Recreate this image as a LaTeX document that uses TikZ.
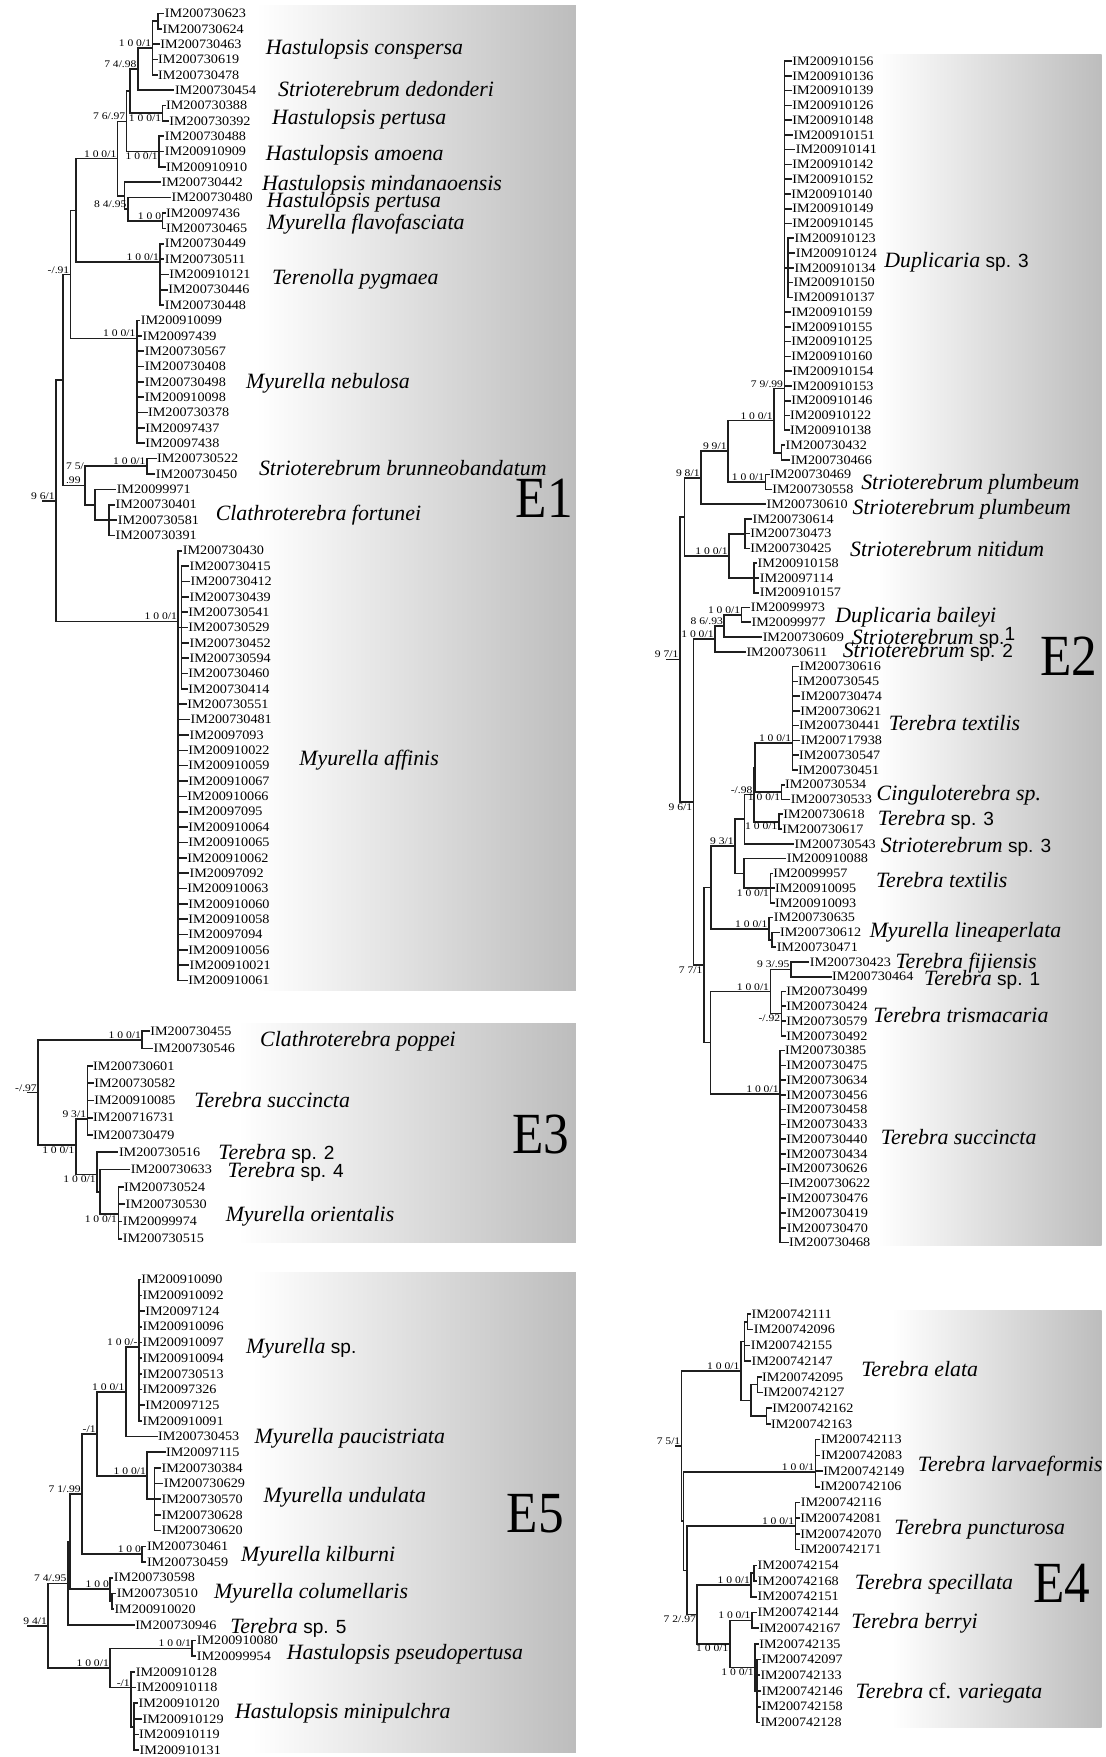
\documentclass[tikz,border=0pt]{standalone}
\usepackage{fontspec}
\setmainfont{Liberation Serif}
\newfontfamily\imf[FakeStretch=1.1]{Liberation Serif}
\newfontfamily\bsf[FakeStretch=1.15]{Liberation Serif}
\newfontfamily\ef[FakeStretch=0.88]{Liberation Serif}
\newfontfamily\spf{Liberation Sans}
\newcommand\kids[2]{\foreach \kk in {#2}{\draw[tbr] (#1) |- (\kk);}}
\newcommand\kidr[4]{\foreach \kk in {#3,...,#4}{\draw[tbr] (#1) |- (#2\kk);}}
\newcommand\bsa[3]{\node[bs,anchor=south east] (#1) at (#2) {#3};}
\newcommand\bsb[3]{\node[bs,anchor=north east] (#1) at (#2) {#3};}
\newcommand\spl[4]{\node[spc] (#1) at (#2,#3+6.5) {#4};}
\newcommand\ebox[5]{\fill[white] (#1,#2) rectangle (#5,#4);
  \shade[left color=white,right color=black!26] (#5,#2) rectangle (#3,#4);}
\newcommand\spp[1]{{\spf\upshape\fontsize{17pt}{17pt}\selectfont #1}}
\begin{document}
\begin{tikzpicture}[x=1pt,y=-1pt,
  tbr/.style={line width=1.45pt, draw=black!88, line cap=rect},
  leaf/.style={anchor=west, inner xsep=1.2pt, inner ysep=0.5pt, outer sep=0pt, font=\imf\fontsize{11.5pt}{11.5pt}\selectfont},
  bs/.style={inner sep=1pt, font=\bsf\fontsize{9pt}{9pt}\selectfont},
  spc/.style={anchor=base west, inner sep=0pt, font=\fontsize{19.5pt}{19.5pt}\selectfont\itshape},
  elab/.style={anchor=base west, inner sep=0pt, font=\ef\fontsize{52pt}{52pt}\selectfont}]
\useasboundingbox (0,0) rectangle (987,1568);
\fill[white] (0,0) rectangle (987,1568);
% boxes
\ebox{5}{5}{514}{884}{229}
\ebox{5}{913}{514}{1108.5}{212}
\ebox{5}{1136}{514}{1564}{225}
\ebox{600}{48.5}{983}{1111.6}{783}
\ebox{600}{1169.6}{983}{1541.7}{796}

% ================= E1 leaves
\foreach \tx/\lb [count=\i from 0] in {146/IM200730623, 144/IM200730624, 142/IM200730463, 140/IM200730619, 140/IM200730478, 155/IM200730454, 147/IM200730388, 150/IM200730392, 146/IM200730488, 146/IM200910909, 147/IM200910910, 143/IM200730442, 152/IM200730480, 147/IM20097436, 147/IM200730465, 146/IM200730449, 146/IM200730511, 150/IM200910121, 149/IM200730446, 146/IM200730448, 124.5/IM200910099, 126/IM20097439, 128/IM200730567, 128/IM200730408, 128/IM200730498, 128/IM200910098, 131/IM200730378, 128.5/IM20097437, 128.5/IM20097438, 139/IM200730522, 138/IM200730450, 103/IM20099971, 102/IM200730401, 104/IM200730581, 102/IM200730391, 162/IM200730430, 168/IM200730415, 169/IM200730412, 168/IM200730439, 167/IM200730541, 167/IM200730529, 168/IM200730452, 168/IM200730594, 167/IM200730460, 167/IM200730414, 166/IM200730551, 169/IM200730481, 168/IM20097093, 167/IM200910022, 167/IM200910059, 167/IM200910067, 166/IM200910066, 167/IM20097095, 167/IM200910064, 167/IM200910065, 166/IM200910062, 168/IM20097092, 166/IM200910063, 167/IM200910060, 167/IM200910058, 167/IM20097094, 167/IM200910056, 168/IM200910021, 167/IM200910061}
  {\node[leaf] (e1-\i) at ({\tx},{12+13.7*\i}) {\lb};}
\coordinate (a-cs1) at (141,18.9);
\coordinate (a-cs) at (136,42.8);
\coordinate (a-ea) at (123,61.7);
\coordinate (a-pp) at (145,101);
\coordinate (a-j1) at (116,81.4);
\coordinate (a-am) at (142,135.3);
\coordinate (a-j) at (113,108.4);
\coordinate (a-fl) at (145,197);
\coordinate (a-k2) at (114,186.7);
\coordinate (a-k) at (111,174.7);
\coordinate (a-i) at (105,141.5);
\coordinate (a-t) at (143,234);
\coordinate (a-e) at (68,188);
\coordinate (a-n) at (122,302);
\coordinate (a-b) at (63,245);
\coordinate (a-g) at (131,416);
\coordinate (a-f1) at (97.4,464);
\coordinate (a-f) at (85,450.4);
\coordinate (a-d) at (76,433.2);
\coordinate (a-c) at (56,339);
\coordinate (a-af1) at (162,560);
\coordinate (a-af) at (159,554.5);
\coordinate (a-r) at (50,447);
\coordinate (a-rs) at (38,447);
\draw[tbr] (a-rs) -- (a-r);
\kids{a-r}{a-c,a-af}
\kids{a-c}{a-b,a-d}
\kids{a-b}{a-e,a-n}
\kids{a-e}{a-i,a-t}
\kids{a-i}{a-j,a-k}
\kids{a-j}{a-j1,a-am}
\kids{a-j1}{a-ea,a-pp}
\kids{a-ea}{a-cs,e1-5}
\kids{a-cs}{a-cs1,e1-2,e1-3,e1-4}
\kids{a-cs1}{e1-0,e1-1}
\kids{a-pp}{e1-6,e1-7}
\kids{a-am}{e1-8,e1-9,e1-10}
\kids{a-k}{e1-11,a-k2}
\kids{a-k2}{e1-12,a-fl}
\kids{a-fl}{e1-13,e1-14}
\kidr{a-t}{e1-}{15}{19}
\kidr{a-n}{e1-}{20}{28}
\kids{a-d}{a-g,a-f}
\kids{a-g}{e1-29,e1-30}
\kids{a-f}{e1-31,a-f1}
\kidr{a-f1}{e1-}{32}{34}
\kids{a-af}{e1-35,a-af1}
\kidr{a-af1}{e1-}{36}{44}
\kidr{a-af}{e1-}{45}{63}
\bsa{la-cs}{a-cs}{1 0 0/1}
\bsa{la-ea}{a-ea}{7 4/.98}
\bsb{la-pp}{a-pp}{1 0 0/1}
\bsb{la-am}{a-am}{1 0 0/1}
\bsa{la-j}{a-j}{7 6/.97}
\bsa{la-fl}{a-fl}{1 0 0}
\bsa{la-k2}{a-k2}{8 4/.95}
\bsa{la-i}{a-i}{1 0 0/1}
\bsa{la-t}{a-t}{1 0 0/1}
\bsa{la-n}{a-n}{1 0 0/1}
\bsa{la-b}{a-b}{-/.91}
\bsa{la-g}{a-g}{1 0 0/1}
\node[bs,anchor=south east,align=left] (la-d) at (a-d) {7 5/\\[4pt].99};
\bsa{la-af}{a-af}{1 0 0/1}
\bsa{la-r}{a-r}{9 6/1}
\spl{s1}{237}{41.7}{Hastulopsis conspersa}
\spl{s2}{248}{80}{Strioterebrum dedonderi}
\spl{s3}{242.6}{104.8}{Hastulopsis pertusa}
\spl{s4}{237}{137}{Hastulopsis amoena}
\spl{s5}{233.7}{163.7}{Hastulopsis mindanaoensis}
\spl{s6}{238}{178.6}{Hastulopsis pertusa}
\spl{s7}{238}{198}{Myurella flavofasciata}
\spl{s8}{242.6}{247}{Terenolla pygmaea}
\spl{s9}{219.5}{340}{Myurella nebulosa}
\spl{s10}{231}{418}{Strioterebrum brunneobandatum}
\spl{s11}{192.4}{457.8}{Clathroterebra fortunei}
\spl{s12}{267}{677}{Myurella affinis}
\node[elab] (E1) at (460,462) {E1};

% ================= E3
\foreach \tx/\lb [count=\i from 0] in {133/IM200730455, 136/IM200730546, 82/IM200730601, 83/IM200730582, 83/IM200910085, 82/IM200716731, 82/IM200730479, 105/IM200730516, 115.5/IM200730633, 109.5/IM200730524, 111/IM200730530, 108.5/IM20099974, 108.5/IM200730515}
  {\node[leaf] (e3-\i) at ({\tx},{920.3+15.43*\i}) {\lb};}
\coordinate (c-cp) at (127,928);
\coordinate (c-su) at (78,998.5);
\coordinate (c-or) at (105.6,1083.5);
\coordinate (c-s3) at (89,1064);
\coordinate (c-s2) at (86.5,1048);
\coordinate (c-s) at (67.7,1022);
\coordinate (c-r) at (34,975);
\coordinate (c-rs) at (24.8,975);
\draw[tbr] (c-rs) -- (c-r);
\kids{c-r}{c-cp,c-s}
\kids{c-cp}{e3-0,e3-1}
\kids{c-s}{c-su,c-s2}
\kidr{c-su}{e3-}{2}{6}
\kids{c-s2}{e3-7,c-s3}
\kids{c-s3}{e3-8,c-or}
\kidr{c-or}{e3-}{9}{12}
\bsa{lc-cp}{c-cp}{1 0 0/1}
\bsa{lc-r}{c-r}{-/.97}
\bsa{lc-su}{c-su}{9 3/1}
\bsb{lc-s}{c-s}{1 0 0/1}
\bsb{lc-s2}{c-s2}{1 0 0/1}
\bsb{lc-or}{c-or}{1 0 0/1}
\spl{t1}{232}{927}{Clathroterebra poppei}
\spl{t2}{173.3}{981.5}{Terebra succincta}
\spl{t3}{194.7}{1028.3}{Terebra \spp{sp. 2}}
\spl{t4}{203}{1044.6}{Terebra \spp{sp. 4}}
\spl{t5}{201.3}{1083.5}{Myurella orientalis}
\node[elab] (E3) at (457,1029.8) {E3};

% ================= E5
\foreach \tx/\lb [count=\i from 0] in {125/IM200910090, 126/IM200910092, 128.5/IM20097124, 126/IM200910096, 126/IM200910097, 126/IM200910094, 126/IM200730513, 126/IM20097326, 128.5/IM20097125, 126/IM200910091, 140/IM200730453, 147/IM20097115, 143/IM200730384, 145/IM200730629, 143/IM200730570, 143/IM200730628, 143/IM200730620, 130/IM200730461, 130/IM200730459, 100.5/IM200730598, 103/IM200730510, 101/IM200910020, 119.5/IM200730946, 174.5/IM200910080, 174.5/IM20099954, 120/IM200910128, 121/IM200910118, 122.5/IM200910120, 126/IM200910129, 123/IM200910119, 123.5/IM200910131}
  {\node[leaf] (e5-\i) at ({\tx},{1142+14*\i}) {\lb};}
\coordinate (e-ms) at (123.8,1202);
\coordinate (e-m1) at (112.2,1242);
\coordinate (e-un1) at (138,1338);
\coordinate (e-un) at (131.4,1317);
\coordinate (e-m2) at (86.5,1279.6);
\coordinate (e-ki) at (127,1387);
\coordinate (e-m3) at (73.3,1333.3);
\coordinate (e-co1) at (99.7,1429);
\coordinate (e-co) at (98.3,1418);
\coordinate (e-m4) at (62.7,1375.6);
\coordinate (e-m5) at (60.5,1413);
\coordinate (e-ps) at (171.6,1471);
\coordinate (e-mp1) at (119.5,1541);
\coordinate (e-mp) at (117,1506);
\coordinate (e-ha) at (98.3,1488.5);
\coordinate (e-r) at (43,1450.8);
\coordinate (e-rs) at (24.8,1450.8);
\draw[tbr] (e-rs) -- (e-r);
\kids{e-r}{e-m5,e-ha}
\kids{e-m5}{e-m4,e5-22}
\kids{e-m4}{e-m3,e-co}
\kids{e-m3}{e-m2,e-ki}
\kids{e-m2}{e-m1,e-un}
\kids{e-m1}{e-ms,e5-10}
\kidr{e-ms}{e5-}{0}{9}
\kids{e-un}{e5-11,e-un1}
\kidr{e-un1}{e5-}{12}{16}
\kids{e-ki}{e5-17,e5-18}
\kids{e-co}{e5-19,e-co1}
\kids{e-co1}{e5-20,e5-21}
\kids{e-ha}{e-ps,e-mp}
\kids{e-ps}{e5-23,e5-24}
\kids{e-mp}{e5-25,e5-26,e-mp1}
\kidr{e-mp1}{e5-}{27}{30}
\bsa{le-ms}{e-ms}{1 0 0/-}
\bsa{le-m1}{e-m1}{1 0 0/1}
\bsa{le-un}{e-un}{1 0 0/1}
\bsa{le-m2}{e-m2}{-/1}
\bsa{le-ki}{e-ki}{1 0 0}
\bsa{le-m3}{e-m3}{7 1/.99}
\bsa{le-co}{e-co}{1 0 0}
\bsa{le-m5}{e-m5}{7 4/.95}
\bsa{le-ps}{e-ps}{1 0 0/1}
\bsa{le-mp}{e-mp}{-/1}
\bsa{le-ha}{e-ha}{1 0 0/1}
\bsa{le-r}{e-r}{9 4/1}
\spl{u1}{219.5}{1201.8}{Myurella \spp{sp.}}
\spl{u2}{227}{1282}{Myurella paucistriata}
\spl{u3}{235}{1334.8}{Myurella undulata}
\spl{u4}{215}{1387}{Myurella kilburni}
\spl{u5}{190.8}{1420}{Myurella columellaris}
\spl{u6}{205.3}{1451}{Terebra \spp{sp. 5}}
\spl{u7}{255.8}{1474.7}{Hastulopsis pseudopertusa}
\spl{u8}{209.6}{1526.8}{Hastulopsis minipulchra}
\node[elab] (E5) at (452,1367.6) {E5};

% ================= E2
\foreach \tx/\lb [count=\i from 0] in {706/IM200910156, 706/IM200910136, 706/IM200910139, 706/IM200910126, 706/IM200910148, 707/IM200910151, 709/IM200910141, 706/IM200910142, 706/IM200910152, 705/IM200910140, 706/IM200910149, 706/IM200910145, 708/IM200910123, 709/IM200910124, 708/IM200910134, 707/IM200910150, 707/IM200910137, 705/IM200910159, 705/IM200910155, 705/IM200910125, 705/IM200910160, 706/IM200910154, 706/IM200910153, 705/IM200910146, 704/IM200910122, 704/IM200910138, 700/IM200730432, 704.5/IM200730466, 686/IM200730469, 688/IM200730558, 683/IM200730610, 670.5/IM200730614, 668.5/IM200730473, 668.5/IM200730425, 675/IM200910158, 677/IM20097114, 677/IM200910157, 669/IM20099973, 669.5/IM20099977, 679.5/IM200730609, 665/IM200730611, 712.5/IM200730616, 711/IM200730545, 713.5/IM200730474, 713/IM200730621, 712/IM200730441, 713.5/IM200717938, 712/IM200730547, 711/IM200730451, 699.5/IM200730534, 704.5/IM200730533, 698/IM200730618, 697/IM200730617, 708/IM200730543, 701/IM200910088, 689/IM20099957, 690.5/IM200910095, 690.5/IM200910093, 689.5/IM200730635, 695/IM200730612, 692/IM200730471, 721.5/IM200730423, 741.5/IM200730464, 700.5/IM200730499, 700.5/IM200730424, 700.5/IM200730579, 700.5/IM200730492, 699.5/IM200730385, 700.5/IM200730475, 700.5/IM200730634, 700.5/IM200730456, 700.5/IM200730458, 700.5/IM200730433, 700.5/IM200730440, 700.5/IM200730434, 700.5/IM200730626, 703/IM200730622, 701/IM200730476, 701/IM200730419, 701/IM200730470, 703/IM200730468}
  {\node[leaf] (e2-\i) at ({\tx},{54.5+13.18*\i}) {\lb};}
\coordinate (b-ds1) at (703,239);
\coordinate (b-ds) at (700,346.7);
\coordinate (b-dp) at (697.4,404);
\coordinate (b-d1) at (690.8,375.4);
\coordinate (b-pl) at (683.2,430.1);
\coordinate (b-d2) at (649.6,402.7);
\coordinate (b-d3) at (625.5,426.3);
\coordinate (b-ni1) at (665,476.3);
\coordinate (b-ni2) at (672.7,515.8);
\coordinate (b-ni) at (650.6,496);
\coordinate (b-d4) at (611,461.2);
\coordinate (b-ba) at (661.8,548.8);
\coordinate (b-d9) at (646.3,558.7);
\coordinate (b-d8) at (638,570.2);
\coordinate (b-tx1) at (707.3,663);
\coordinate (b-cg) at (697.4,706.9);
\coordinate (b-ug1) at (673.7,685);
\coordinate (b-ts3) at (695,733.3);
\coordinate (b-ug) at (672.7,709.1);
\coordinate (b-st3) at (664.4,731);
\coordinate (b-tr3) at (687.5,792.6);
\coordinate (b-tx2) at (663.8,779.4);
\coordinate (b-d12) at (656,755.2);
\coordinate (b-li1) at (689,838.7);
\coordinate (b-li) at (686,828.8);
\coordinate (b-d10) at (634.7,792);
\coordinate (b-fj) at (705.7,865.1);
\coordinate (b-tm) at (697.4,904.6);
\coordinate (b-trn) at (687.5,884.9);
\coordinate (b-sc) at (696,976.2);
\coordinate (b-d11) at (634,930.5);
\coordinate (b-d7) at (628,861.3);
\coordinate (b-d6) at (618.9,715.8);
\coordinate (b-r) at (606.7,588.5);
\coordinate (b-rs) at (595,588.5);
\draw[tbr] (b-rs) -- (b-r);
\kids{b-r}{b-d4,b-d6}
\kids{b-d4}{b-d3,b-ni}
\kids{b-d3}{b-d2,e2-30}
\kids{b-d2}{b-d1,b-pl}
\kids{b-d1}{b-ds,b-dp}
\kidr{b-ds}{e2-}{0}{11}
\kids{b-ds}{b-ds1}
\kidr{b-ds1}{e2-}{12}{16}
\kidr{b-ds}{e2-}{17}{25}
\kids{b-dp}{e2-26,e2-27}
\kids{b-pl}{e2-28,e2-29}
\kids{b-ni}{b-ni1,b-ni2}
\kidr{b-ni1}{e2-}{31}{33}
\kidr{b-ni2}{e2-}{34}{36}
\kids{b-d6}{b-d8,b-d7}
\kids{b-d8}{b-d9,e2-40}
\kids{b-d9}{b-ba,e2-39}
\kids{b-ba}{e2-37,e2-38}
\kids{b-d7}{b-d10,b-d11}
\kids{b-d10}{b-d12,b-li}
\kids{b-d12}{b-st3,b-tx2}
\kids{b-st3}{b-ug,e2-53}
\kids{b-ug}{b-ug1,b-ts3}
\kids{b-ug1}{b-tx1,b-cg}
\kidr{b-tx1}{e2-}{41}{48}
\kids{b-cg}{e2-49,e2-50}
\kids{b-ts3}{e2-51,e2-52}
\kids{b-tx2}{e2-54,b-tr3}
\kidr{b-tr3}{e2-}{55}{57}
\kids{b-li}{e2-58,b-li1}
\kids{b-li1}{e2-59,e2-60}
\kids{b-d11}{b-trn,b-sc}
\kids{b-trn}{b-fj,b-tm}
\kids{b-fj}{e2-61,e2-62}
\kidr{b-tm}{e2-}{63}{66}
\kidr{b-sc}{e2-}{67}{80}
\bsa{lb-ds}{b-ds}{7 9/.99}
\bsa{lb-d1}{b-d1}{1 0 0/1}
\bsa{lb-pl}{b-pl}{1 0 0/1}
\bsa{lb-d2}{b-d2}{9 9/1}
\bsa{lb-d3}{b-d3}{9 8/1}
\bsa{lb-ni}{b-ni}{1 0 0/1}
\bsa{lb-ba}{b-ba}{1 0 0/1}
\bsa{lb-d9}{b-d9}{8 6/.93}
\bsa{lb-d8}{b-d8}{1 0 0/1}
\bsa{lb-tx1}{b-tx1}{1 0 0/1}
\bsb{lb-cg}{b-cg}{1 0 0/1}
\bsb{lb-ts3}{b-ts3}{1 0 0/1}
\bsa{lb-ug}{b-ug}{-/.98}
\bsa{lb-d12}{b-d12}{9 3/1}
\bsb{lb-tr3}{b-tr3}{1 0 0/1}
\bsa{lb-li}{b-li}{1 0 0/1}
\bsa{lb-fj}{b-fj}{9 3/.95}
\bsb{lb-tm}{b-tm}{-/.92}
\bsa{lb-trn}{b-trn}{1 0 0/1}
\bsa{lb-sc}{b-sc}{1 0 0/1}
\bsb{lb-d7}{b-d7}{7 7/1}
\bsb{lb-d6}{b-d6}{9 6/1}
\bsa{lb-r}{b-r}{9 7/1}
\spl{v1}{789}{232}{Duplicaria \spp{sp. 3}}
\spl{v2}{768.4}{430.6}{Strioterebrum plumbeum}
\spl{v3}{760.8}{452.4}{Strioterebrum plumbeum}
\spl{v4}{758.5}{490.5}{Strioterebrum nitidum}
\spl{v5}{745.3}{549.1}{Duplicaria baileyi}
\spl{v6}{760}{569}{Strioterebrum \spp{sp.\raisebox{4pt}{1}}}
\spl{v7}{751.9}{580}{Strioterebrum \spp{sp. 2}}
\spl{v8}{793}{645}{Terebra textilis}
\spl{v9}{782.2}{707.7}{Cinguloterebra sp.}
\spl{v10}{783.2}{730.6}{Terebra \spp{sp. 3}}
\spl{v11}{785.9}{754.5}{Strioterebrum \spp{sp. 3}}
\spl{v12}{781.6}{785.2}{Terebra textilis}
\spl{v13}{776}{830.4}{Myurella lineaperlata}
\spl{v14}{799}{857.7}{Terebra fijiensis}
\spl{v15}{824.5}{872.6}{Terebra \spp{sp. 1}}
\spl{v16}{779.3}{906.3}{Terebra trismacaria}
\spl{v17}{785.9}{1015}{Terebra succincta}
\node[elab] (E2) at (928,602.7) {E2};

% ================= E4
\foreach \tx/\lb [count=\i from 0] in {669.5/IM200742111, 671.5/IM200742096, 669/IM200742155, 669.5/IM200742147, 679/IM200742095, 680/IM200742127, 688/IM200742162, 687/IM200742163, 731.5/IM200742113, 731.5/IM200742083, 733.5/IM200742149, 731/IM200742106, 713.5/IM200742116, 713/IM200742081, 713/IM200742070, 713/IM200742171, 675/IM200742154, 675/IM200742168, 675/IM200742151, 675/IM200742144, 676.5/IM200742167, 676.5/IM200742135, 678.5/IM200742097, 677.5/IM200742133, 678.5/IM200742146, 678.5/IM200742158, 677.5/IM200742128}
  {\node[leaf] (e4-\i) at ({\tx},{1172.6+14.02*\i}) {\lb};}
\coordinate (d-ela) at (667,1179.6);
\coordinate (d-el1) at (664.4,1197.2);
\coordinate (d-elb) at (676,1235.7);
\coordinate (d-elc) at (684.2,1263.7);
\coordinate (d-el2) at (670.4,1249.7);
\coordinate (d-el) at (661.1,1223.4);
\coordinate (d-la) at (727.8,1313.4);
\coordinate (d-pu) at (710,1361.9);
\coordinate (d-spa) at (672.7,1403.9);
\coordinate (d-sp) at (670.4,1414.5);
\coordinate (d-be) at (671,1446);
\coordinate (d-va1) at (675.5,1509);
\coordinate (d-va) at (673.7,1488);
\coordinate (d-bv) at (651.2,1467);
\coordinate (d-r4) at (622.2,1440.8);
\coordinate (d-q2) at (613.3,1401.4);
\coordinate (d-q) at (610,1357.4);
\coordinate (d-r) at (608.3,1290.4);
\coordinate (d-rs) at (603.5,1290.4);
\draw[tbr] (d-rs) -- (d-r);
\kids{d-r}{d-el,d-q}
\kids{d-el}{d-el1,d-el2}
\kids{d-el1}{d-ela,e4-2,e4-3}
\kids{d-ela}{e4-0,e4-1}
\kids{d-el2}{d-elb,d-elc}
\kids{d-elb}{e4-4,e4-5}
\kids{d-elc}{e4-6,e4-7}
\kids{d-q}{d-la,d-q2}
\kidr{d-la}{e4-}{8}{11}
\kids{d-q2}{d-pu,d-r4}
\kidr{d-pu}{e4-}{12}{15}
\kids{d-r4}{d-sp,d-bv}
\kids{d-sp}{d-spa,e4-18}
\kids{d-spa}{e4-16,e4-17}
\kids{d-bv}{d-be,d-va}
\kids{d-be}{e4-19,e4-20}
\kids{d-va}{e4-21,d-va1}
\kidr{d-va1}{e4-}{22}{26}
\bsa{ld-el}{d-el}{1 0 0/1}
\bsa{ld-la}{d-la}{1 0 0/1}
\bsa{ld-pu}{d-pu}{1 0 0/1}
\bsa{ld-sp}{d-sp}{1 0 0/1}
\bsa{ld-be}{d-be}{1 0 0/1}
\bsb{ld-va}{d-va}{1 0 0/1}
\bsb{ld-bv}{d-bv}{1 0 0/1}
\bsb{ld-r4}{d-r4}{7 2/.97}
\bsa{ld-r}{d-r}{7 5/1}
\spl{w1}{768.4}{1221.7}{Terebra elata}
\spl{w2}{818.9}{1307.1}{Terebra larvaeformis}
\spl{w3}{798}{1363.1}{Terebra puncturosa}
\spl{w4}{762.8}{1412.2}{Terebra specillata}
\spl{w5}{759.5}{1447}{Terebra berryi}
\spl{w6}{763.4}{1509.5}{Terebra {\upshape cf.} variegata}
\node[elab] (E4) at (922,1430) {E4};
\end{tikzpicture}
\end{document}
